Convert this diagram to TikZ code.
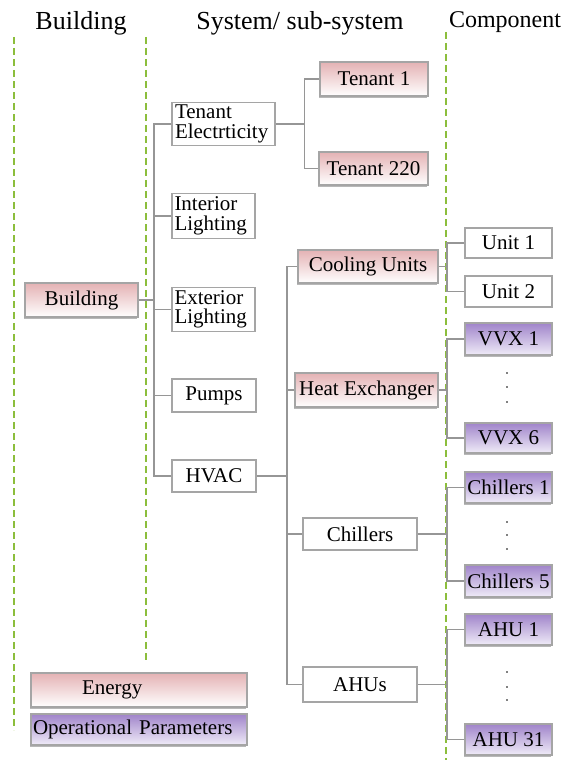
\documentclass[tikz,border=0pt]{standalone}
\usepackage{fontspec}
\setmainfont{Liberation Serif}
\usetikzlibrary{shadows}
\definecolor{energytop}{RGB}{228,178,180}
\definecolor{paramtop}{RGB}{160,132,202}
\definecolor{parambot}{RGB}{240,236,248}
\definecolor{zonegreen}{RGB}{140,190,60}
\definecolor{boxgray}{RGB}{165,165,165}
\definecolor{wiregray}{RGB}{150,150,150}
\tikzset{
  plainbox/.style={shape=rectangle, draw=boxgray, line width=1.2pt, fill=white, inner sep=0pt, font=\fontsize{21}{19.5}\selectfont},
  energybox/.style={plainbox, top color=energytop, bottom color=white, drop shadow={shadow xshift=-1.5pt, shadow yshift=-1.5pt, fill=gray!70, opacity=0.8}},
  parambox/.style={plainbox, top color=paramtop, bottom color=parambot, drop shadow={shadow xshift=-1.5pt, shadow yshift=-1.5pt, fill=gray!70, opacity=0.8}},
  wire/.style={draw=wiregray, line width=1.4pt},
  zoneline/.style={draw=zonegreen, line width=1.8pt, dash pattern=on 7pt off 4pt},
  heading/.style={inner sep=0pt, font=\fontsize{26}{26}\selectfont}
}
\begin{document}
\begin{tikzpicture}[x=1pt, y=-1pt]
	\useasboundingbox (0,0) rectangle (561,760);
	% Zone separators and headings:
	\draw[zoneline] (14,37) -- (14,730);
	\draw[zoneline] (146,37) -- (146,660);
	\draw[zoneline] (446,32) -- (446,760);
	\node[heading] (hbuilding) at (81,23) {Building};
	\node[heading] (hsystem) at (300,23) {System/ sub-system};
	\node[heading, font=\fontsize{24}{24}\selectfont] (hcomponent) at (505,22) {Component};
	% Building level:
	\node[energybox, minimum width=113pt, minimum height=34pt] (building) at (81.5,300) {Building};
	% Systems:
	\node[plainbox, minimum width=103pt, minimum height=43pt, align=left, text width=97pt] (tenelec) at (223.5,124) {Tenant\\Electrticity};
	\node[plainbox, minimum width=83pt, minimum height=45pt, align=left, text width=78pt] (interior) at (213.5,216) {Interior\\Lighting};
	\node[plainbox, minimum width=83pt, minimum height=44pt, align=left, text width=78pt] (exterior) at (213.5,309.5) {Exterior\\Lighting};
	\node[plainbox, minimum width=84pt, minimum height=33pt] (pumps) at (214,395.5) {Pumps};
	\node[plainbox, minimum width=84pt, minimum height=32pt] (hvac) at (214,476) {HVAC};
	% Sub-systems:
	\node[energybox, minimum width=108pt, minimum height=34pt] (tenant1) at (374,79) {Tenant 1};
	\node[energybox, minimum width=109pt, minimum height=33pt] (tenant220) at (373.5,168.5) {Tenant 220};
	\node[energybox, minimum width=140pt, minimum height=33pt] (cooling) at (368,266.5) {Cooling Units};
	\node[energybox, minimum width=143pt, minimum height=34pt] (heatex) at (366.5,390) {Heat Exchanger};
	\node[plainbox, minimum width=114pt, minimum height=32pt] (chillers) at (360,534) {Chillers};
	\node[plainbox, minimum width=114pt, minimum height=35pt] (ahus) at (360,684.5) {AHUs};
	% Components:
	\node[plainbox, minimum width=87pt, minimum height=30pt] (unit1) at (508.5,243) {Unit 1};
	\node[plainbox, minimum width=87pt, minimum height=31pt] (unit2) at (508.5,291.5) {Unit 2};
	\node[parambox, minimum width=87pt, minimum height=32pt] (vvx1) at (508.5,339) {VVX 1};
	\node[parambox, minimum width=87pt, minimum height=30pt] (vvx6) at (508.5,438) {VVX 6};
	\node[parambox, minimum width=87pt, minimum height=31pt] (chillers1) at (508.5,487.5) {Chillers 1};
	\node[parambox, minimum width=87pt, minimum height=32pt] (chillers5) at (508.5,581) {Chillers 5};
	\node[parambox, minimum width=87pt, minimum height=31pt] (ahu1) at (508.5,629.5) {AHU 1};
	\node[parambox, minimum width=87pt, minimum height=31pt] (ahu31) at (508.5,739.5) {AHU 31};
	\foreach \y in {373,387,402,522,535,549,672,687,700}
		\fill (507,\y) circle (0.9pt);
	% Legend:
	\node[energybox, minimum width=216pt, minimum height=34pt, align=left, text width=216pt] (legenergy) at (139,690) {\hspace*{51pt}Energy};
	\node[parambox, minimum width=216pt, minimum height=31pt, align=left, text width=212pt] (legparam) at (139,729.5) {Operational Parameters};
	% Wires:
	\coordinate (sysbus) at (154,0);
	\coordinate (tenbus) at (304.5,0);
	\coordinate (hvacbus) at (287,0);
	\coordinate (compbus) at (447,0);
	\draw[wire] (building.east) -- (building.east -| sysbus);
	\draw[wire] (tenelec.west) -- (tenelec.west -| sysbus) |- (hvac.west);
	\draw[wire] (interior.west) -- (interior.west -| sysbus);
	\draw[wire] (exterior.west) -- (exterior.west -| sysbus);
	\draw[wire] (pumps.west) -- (pumps.west -| sysbus);
	\draw[wire] (tenelec.east) -- (tenelec.east -| tenbus);
	\draw[wire] (tenant1.west) -- (tenant1.west -| tenbus) |- (tenant220.west);
	\draw[wire] (hvac.east) -- (hvac.east -| hvacbus);
	\draw[wire] (cooling.west) -- (cooling.west -| hvacbus) |- (ahus.west);
	\draw[wire] (heatex.west) -- (heatex.west -| hvacbus);
	\draw[wire] (chillers.west) -- (chillers.west -| hvacbus);
	\draw[wire] (cooling.east) -- (cooling.east -| compbus);
	\draw[wire] (unit1.west) -- (unit1.west -| compbus) |- (unit2.west);
	\draw[wire] (heatex.east) -- (heatex.east -| compbus);
	\draw[wire] (vvx1.west) -- (vvx1.west -| compbus) |- (vvx6.west);
	\draw[wire] (chillers.east) -- (chillers.east -| compbus);
	\draw[wire] (chillers1.west) -- (chillers1.west -| compbus) |- (chillers5.west);
	\draw[wire] (ahus.east) -- (ahus.east -| compbus);
	\draw[wire] (ahu1.west) -- (ahu1.west -| compbus) |- (ahu31.west);
\end{tikzpicture}
\end{document}
